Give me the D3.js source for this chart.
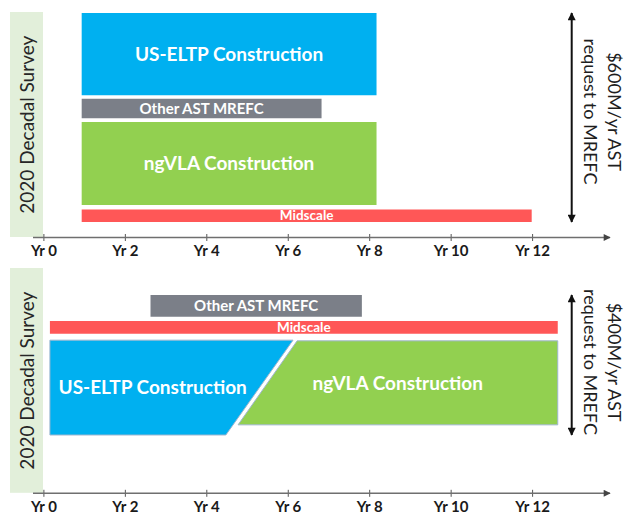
<!DOCTYPE html>
<html>
<head>
<meta charset="utf-8">
<script src="https://cdn.jsdelivr.net/npm/d3@7"></script>
<style>
  body { margin: 0; background: #fff; }
  svg { display: block; font-family: Lato, "Open Sans", sans-serif; }
</style>
</head>
<body>
<svg id="chart" width="626" height="515"></svg>
<script>
// axis ticks (years)
const yearTicks = [0, 2, 4, 6, 8, 10, 12];

// projects, in drawing order
const projects = ["US-ELTP Construction", "Other AST MREFC", "ngVLA Construction", "Midscale"];

// Top scenario: $600M/yr, timelines in years, budget band in $M/yr
const topTotal = 600;
const topStartLow = [0.94, 0.94, 0.94, 0.94];
const topStartHigh = [0.94, 0.94, 0.94, 0.94];
const topEndLow = [8.18, 6.83, 8.18, 11.99];
const topEndHigh = [8.18, 6.83, 8.18, 11.99];
const topLow = [364, 298, 49, 0];
const topHigh = [600, 354, 287, 36];

// Bottom scenario: $400M/yr, ELTP ramps down while ngVLA ramps up
const botTotal = 400;
const botStartLow = [0.16, 2.63, 4.78, 0.16];
const botStartHigh = [0.16, 2.63, 6.23, 0.16];
const botEndLow = [4.48, 7.82, 12.63, 12.63];
const botEndHigh = [6.13, 7.82, 12.63, 12.63];
const botLow = [0, 338, 29, 289];
const botHigh = [271, 400, 269, 326];

const svg = d3.select("#chart");

const x = d3.scaleLinear().domain([0, 12]).range([43.4, 532.1]);
const color = d3.scaleOrdinal()
  .domain(projects)
  .range(["#00b0f0", "#7b7f88", "#92d050", "#ff5757"]);
const labelSize = { "US-ELTP Construction": 19, "Other AST MREFC": 15, "ngVLA Construction": 19, "Midscale": 13.5 };

const defs = svg.append("defs");
const addMarker = (id, fill, w, h) => {
  defs.append("marker")
    .attr("id", id)
    .attr("viewBox", "0 0 10 10")
    .attr("refX", 9).attr("refY", 5)
    .attr("markerUnits", "userSpaceOnUse")
    .attr("markerWidth", w).attr("markerHeight", h)
    .attr("orient", "auto-start-reverse")
    .append("path")
    .attr("d", "M0,0 L10,5 L0,10 Z")
    .attr("fill", fill);
};
addMarker("headBlack", "#111", 9, 8);
addMarker("headGray", "#444", 8, 7);

const line = d3.line().x(d => x(d[0]));

function drawPanel(p) {
  const g = svg.append("g");
  const y = d3.scaleLinear().domain([0, p.total]).range(p.yRange);
  line.y(d => y(d[1]));

  // decadal survey band
  g.append("rect")
    .attr("x", 10).attr("y", p.bandTop)
    .attr("width", 33).attr("height", p.axisY - p.bandTop - 0.5)
    .attr("fill", "#e2efda");
  g.append("text")
    .attr("transform", `translate(27.5,${p.bandTop + (p.axisY - p.bandTop) / 2}) rotate(-90)`)
    .attr("text-anchor", "middle")
    .attr("dy", "0.35em")
    .attr("font-size", 19)
    .attr("fill", "#262626")
    .text("2020 Decadal Survey");

  const rows = projects.map((name, i) => ({
    name,
    pts: [
      [p.startLow[i], p.low[i]],
      [p.endLow[i], p.low[i]],
      [p.endHigh[i], p.high[i]],
      [p.startHigh[i], p.high[i]]
    ]
  }));

  g.selectAll("path.bar")
    .data(rows)
    .join("path")
    .attr("class", "bar")
    .attr("d", d => line(d.pts) + "Z")
    .attr("fill", d => color(d.name))
    .attr("stroke", d => p.outline && (d.name.includes("Construction")) ? "#9fb6cf" : "none")
    .attr("stroke-width", 1);

  g.selectAll("text.lbl")
    .data(rows)
    .join("text")
    .attr("class", "lbl")
    .attr("x", d => d3.mean(d.pts, q => x(q[0])) + (p.nudge[d.name] || 0))
    .attr("y", d => y(d3.mean(d.pts, q => q[1])))
    .attr("dy", "0.35em")
    .attr("text-anchor", "middle")
    .attr("font-weight", 700)
    .attr("font-size", d => labelSize[d.name])
    .attr("fill", "#fff")
    .text(d => d.name);

  // budget arrow
  const ax = 571.7;
  g.append("line")
    .attr("x1", ax).attr("x2", ax)
    .attr("y1", y(0)).attr("y2", y(p.total))
    .attr("stroke", "#111").attr("stroke-width", 2)
    .attr("marker-start", "url(#headBlack)")
    .attr("marker-end", "url(#headBlack)");
  const t = g.append("text")
    .attr("transform", `translate(614,${(y(0) + y(p.total)) / 2 + p.textShift}) rotate(90)`)
    .attr("text-anchor", "middle")
    .attr("font-size", 18)
    .attr("fill", "#1e1e1e");
  t.append("tspan").attr("x", 0).attr("dy", "0.35em").text(`$${p.total}M/yr AST`);
  t.append("tspan").attr("x", 0).attr("dy", "1.3em").text("request to MREFC");

  // time axis
  const axis = g.append("g")
    .attr("transform", `translate(0,${p.axisY})`)
    .call(d3.axisBottom(x).tickValues(yearTicks).tickSize(0).tickPadding(8).tickFormat(d => "Yr " + d));
  axis.select(".domain").remove();
  axis.selectAll(".tick text")
    .attr("font-family", "Lato, sans-serif")
    .attr("font-size", 15)
    .attr("font-weight", 700)
    .attr("fill", "#1a1a1a");
  axis.selectAll(".tick").append("line")
    .attr("y1", -3.5).attr("y2", 3.5)
    .attr("stroke", "#555").attr("stroke-width", 1);
  axis.append("line")
    .attr("x1", 33).attr("x2", 610)
    .attr("stroke", "#6f6f6f").attr("stroke-width", 1.5)
    .attr("marker-end", "url(#headGray)");
}

drawPanel({
  total: topTotal, yRange: [222, 13], bandTop: 12, axisY: 237.5, textShift: -6,
  startLow: topStartLow, startHigh: topStartHigh, endLow: topEndLow, endHigh: topEndHigh,
  low: topLow, high: topHigh, outline: false, nudge: {}
});
drawPanel({
  total: botTotal, yRange: [435, 295], bandTop: 268, axisY: 493.3, textShift: -3,
  startLow: botStartLow, startHigh: botStartHigh, endLow: botEndLow, endHigh: botEndHigh,
  low: botLow, high: botHigh, outline: true, nudge: { "ngVLA Construction": -15, "US-ELTP Construction": -2 }
});
</script>
</body>
</html>
